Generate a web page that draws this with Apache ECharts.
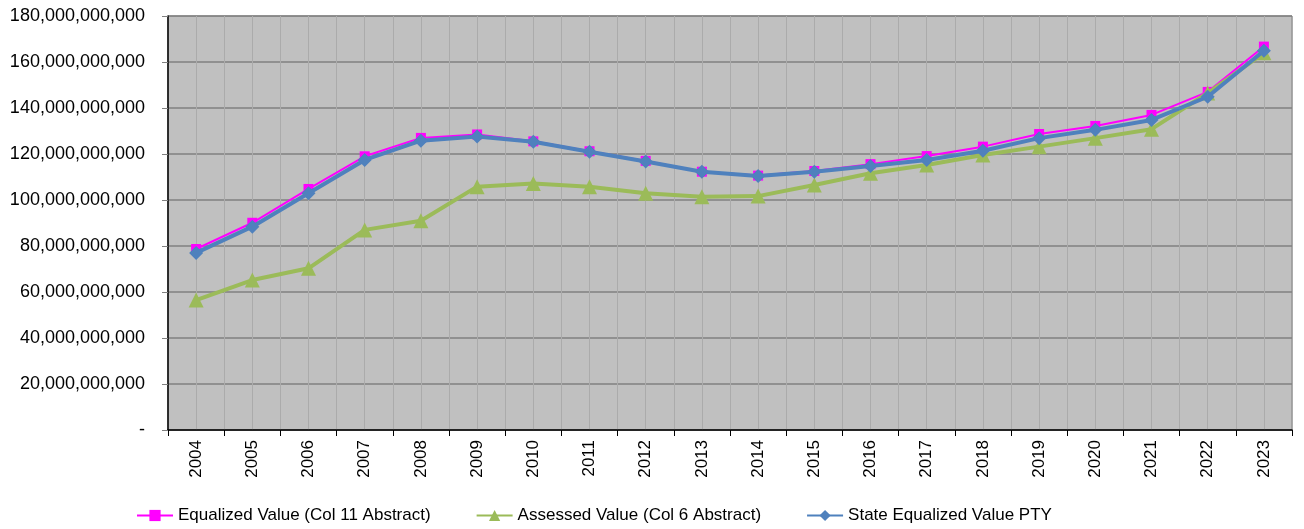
<!DOCTYPE html>
<html>
<head>
<meta charset="utf-8">
<script src="https://cdn.jsdelivr.net/npm/echarts@6/dist/echarts.min.js"></script>
<style>
  html, body { margin: 0; padding: 0; background: #fff; }
  #chart { width: 1304px; height: 529px; }
</style>
</head>
<body>
<div id="chart"></div>
<script>
// years on the category axis
const years = ["2004", "2005", "2006", "2007", "2008", "2009", "2010", "2011", "2012", "2013",
  "2014", "2015", "2016", "2017", "2018", "2019", "2020", "2021", "2022", "2023"];
// values in billions
const equalized = [78.7, 90.1, 104.8, 119, 127, 128.5, 125.5, 121.2, 117, 112.3,
  110.6, 112.6, 115.6, 119.1, 123.2, 128.7, 132.2, 137, 147, 166.7];
const assessed = [56.5, 65.2, 70.3, 87, 91, 105.8, 107.2, 105.8, 102.9, 101.4,
  101.7, 106.5, 111.6, 115.2, 119.6, 123.2, 126.9, 130.8, 146.5, 164];
const stateEq = [77, 88.4, 102.9, 117.4, 125.8, 127.6, 125.3, 121, 116.7, 112.3,
  110.4, 112.3, 114.8, 117.4, 121.4, 126.9, 130.5, 134.8, 144.9, 164.9];
const seriesNames = ["Equalized Value (Col 11 Abstract)", "Assessed Value (Col 6 Abstract)", "State Equalized Value PTY"];

const B = 1e9;
const font = "Liberation Sans, Arial, sans-serif";
const chart = echarts.init(document.getElementById("chart"));

function fmt(v) {
  if (v === 0) return "-";
  return Math.round(v).toString().replace(/\B(?=(\d{3})+(?!\d))/g, ",");
}

chart.setOption({
  animation: false,
  textStyle: { fontFamily: font },
  grid: {
    left: 168, right: 12, top: 16, bottom: 99,
    show: true,
    backgroundColor: "#C0C0C0",
    borderColor: "#808080",
    borderWidth: 1
  },
  legend: {
    top: 502,
    left: 131,
    itemWidth: 36,
    itemHeight: 14,
    itemGap: 45,
    textStyle: { fontSize: 17, color: "#000", fontFamily: font },
    data: seriesNames
  },
  xAxis: [
    {
      type: "category",
      data: years,
      boundaryGap: true,
      axisLine: { lineStyle: { color: "#000", width: 1.5 } },
      axisTick: { show: true, length: 6, lineStyle: { color: "#000" } },
      axisLabel: { rotate: 90, fontSize: 17, color: "#000", margin: 10, fontFamily: font },
      splitLine: { show: false }
    },
    {
      // only for the light vertical grid, every half category
      type: "value",
      min: 0, max: 20, interval: 0.5,
      position: "top",
      axisLine: { show: false },
      axisTick: { show: false },
      axisLabel: { show: false },
      splitLine: { show: true, lineStyle: { color: "#ABABAB", width: 1 } }
    }
  ],
  yAxis: {
    type: "value",
    min: 0, max: 180 * B, interval: 20 * B,
    axisLine: { show: true, lineStyle: { color: "#000", width: 1.5 } },
    axisTick: { show: true, length: 6, lineStyle: { color: "#808080" } },
    axisLabel: { formatter: fmt, fontSize: 18, color: "#000", margin: 23, fontFamily: font },
    splitLine: { show: true, lineStyle: { color: "#808080", width: 1.5 } }
  },
  series: [
    {
      name: seriesNames[0],
      type: "line",
      data: equalized.map(v => v * B),
      symbol: "rect",
      symbolSize: 10,
      lineStyle: { color: "#FF00FF", width: 2 },
      itemStyle: { color: "#FF00FF" },
      z: 2
    },
    {
      name: seriesNames[1],
      type: "line",
      data: assessed.map(v => v * B),
      symbol: "triangle",
      symbolSize: 15,
      lineStyle: { color: "#9BBB59", width: 4 },
      itemStyle: { color: "#9BBB59" },
      z: 3
    },
    {
      name: seriesNames[2],
      type: "line",
      data: stateEq.map(v => v * B),
      symbol: "diamond",
      symbolSize: 14,
      lineStyle: { color: "#4F81BD", width: 4 },
      itemStyle: { color: "#4F81BD" },
      z: 4
    }
  ]
});
</script>
</body>
</html>
